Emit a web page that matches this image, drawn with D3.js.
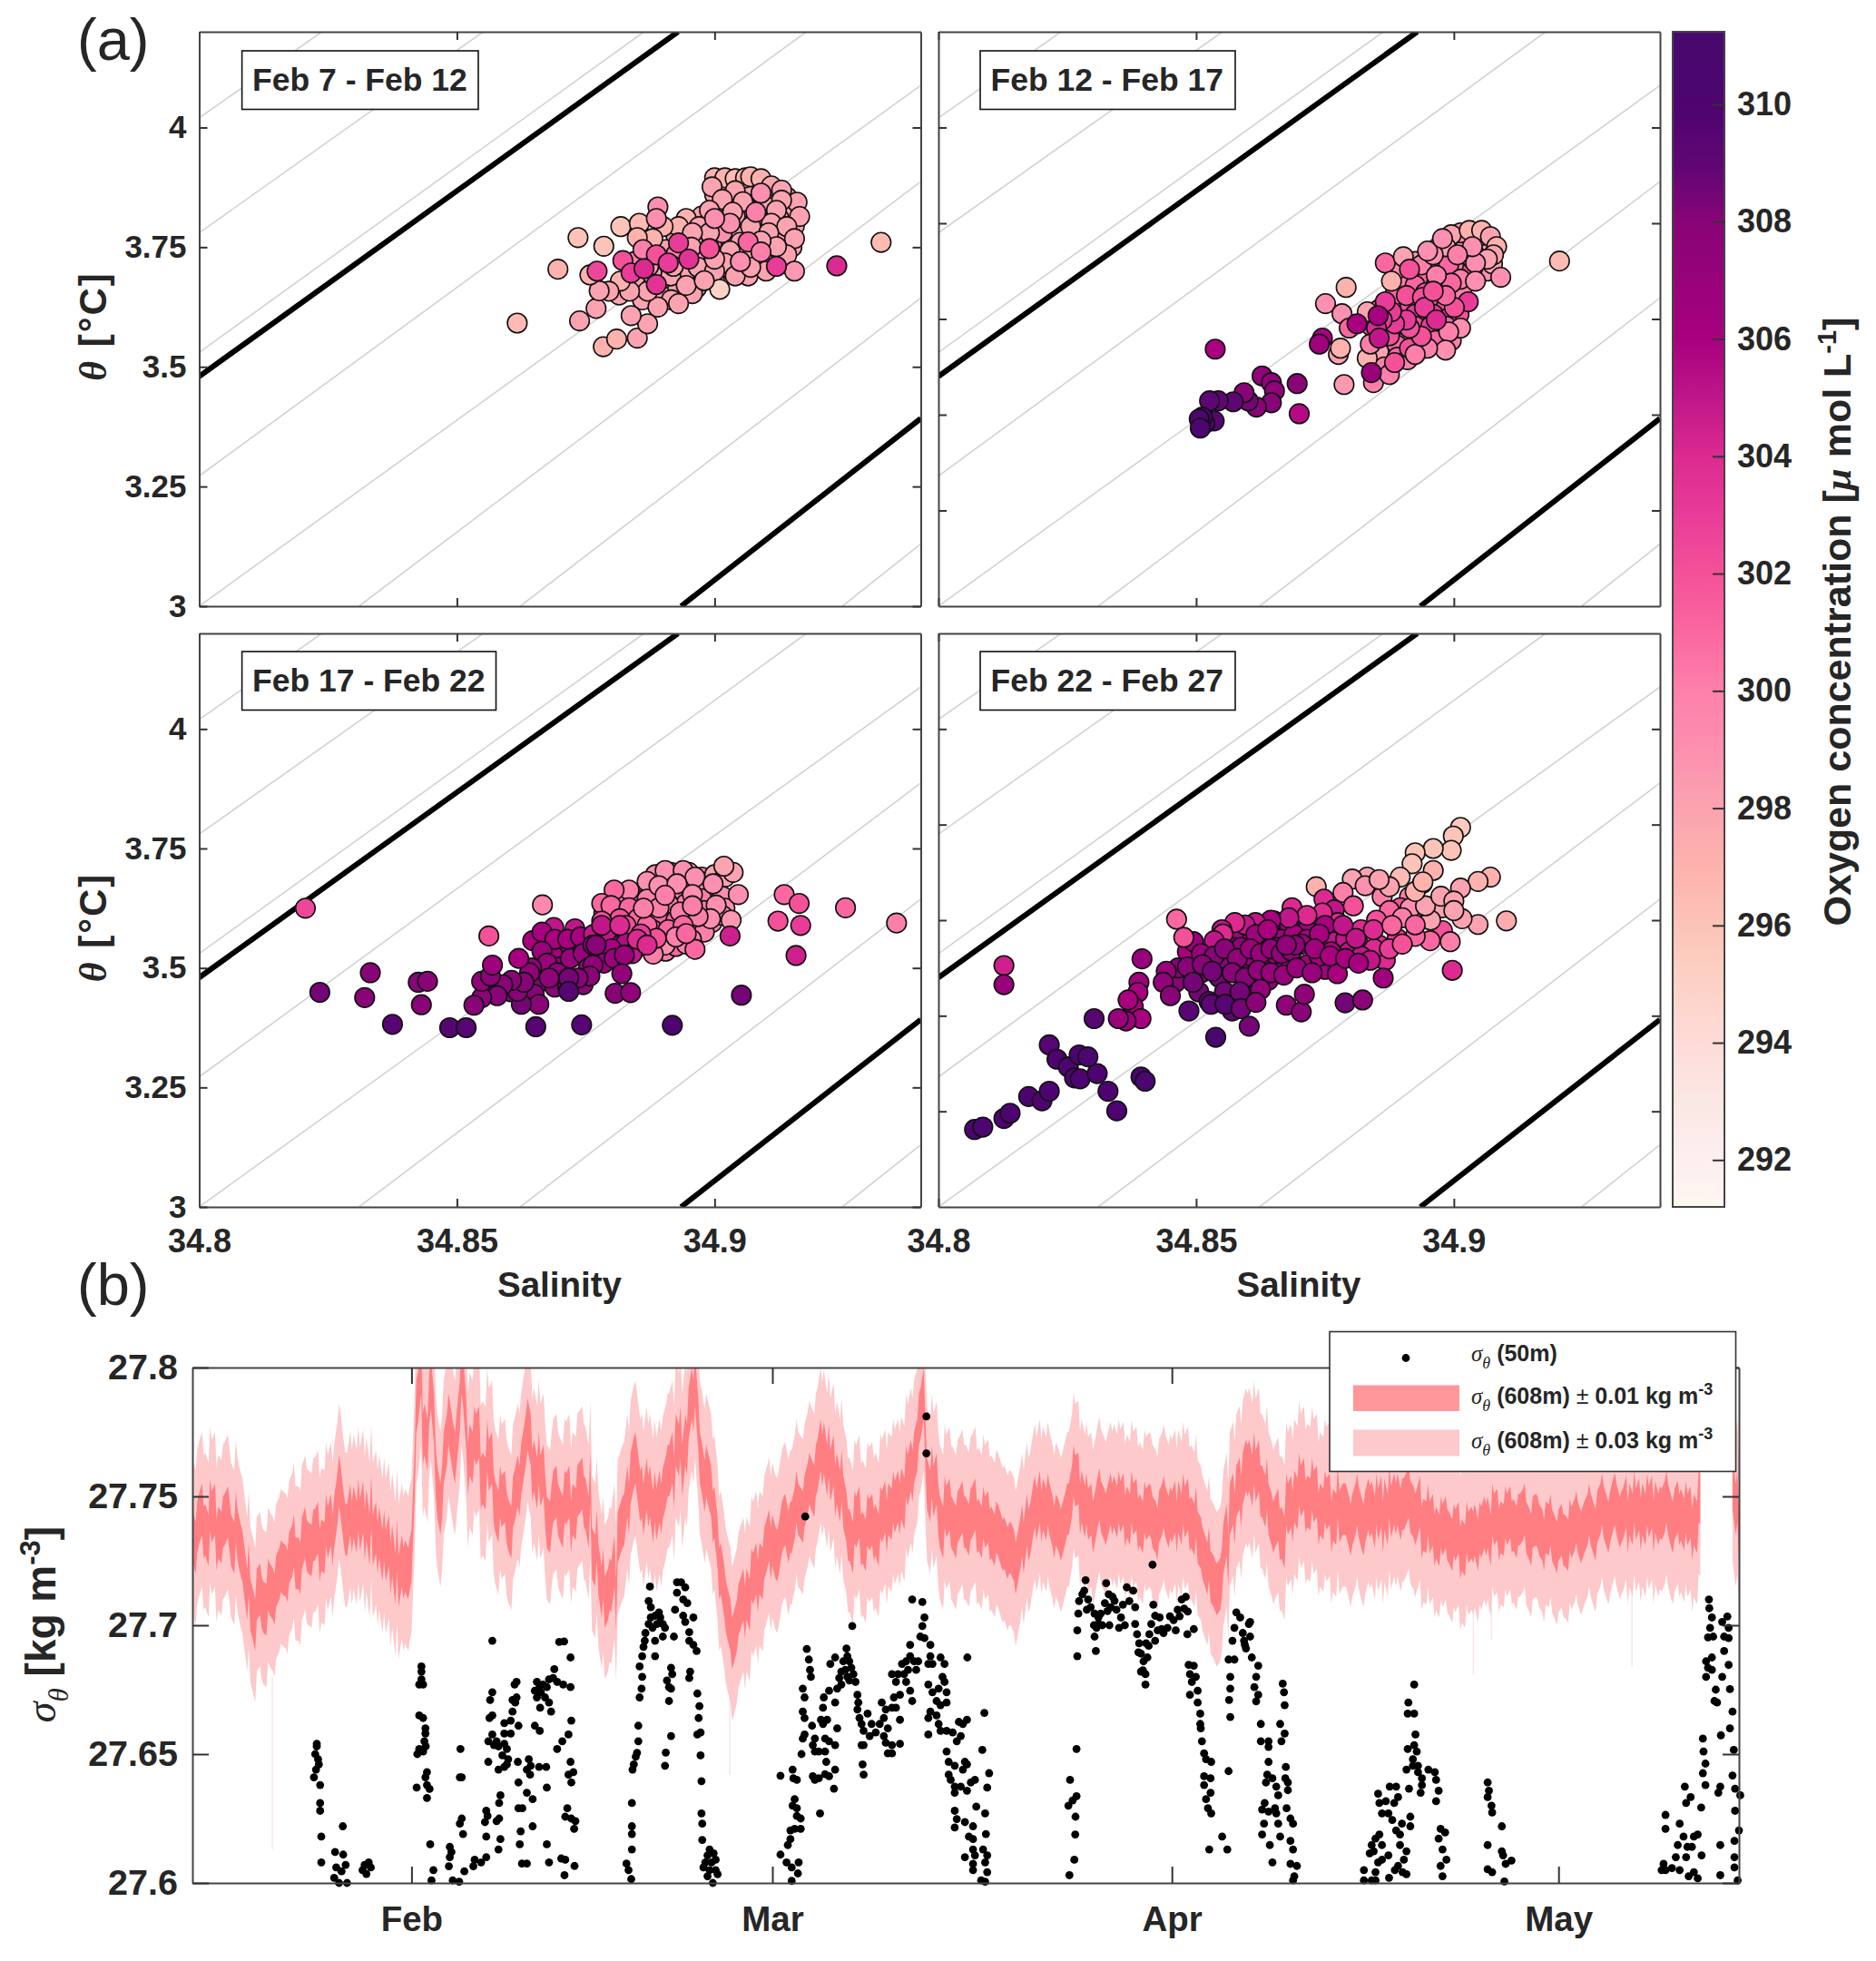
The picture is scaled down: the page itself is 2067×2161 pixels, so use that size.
<!DOCTYPE html>
<html>
<head>
<meta charset="utf-8">
<script src="https://d3js.org/d3.v7.min.js"></script>
<style>
body { margin: 0; background: #fff; }
text { font-family: "Liberation Sans", Arial, sans-serif; fill: #262626; }
</style>
</head>
<body>
<div id="chart"></div>
<script>
// panel (a) tick values
const salTicks = [34.8, 34.85, 34.9];
const thetaLabelled = [3, 3.25, 3.5, 3.75, 4];
const thetaPlain = [3.2, 3.4, 3.6, 3.8, 4];
const panelTitles = ['Feb 7 - Feb 12', 'Feb 12 - Feb 17', 'Feb 17 - Feb 22', 'Feb 22 - Feb 27'];

// density contours, [S0, T0, S1, T1]
const isoThin = [[34.8,4.02,34.8238,4.2],[34.8,3.78,34.8551,4.2],[34.8,3.53,34.8863,4.2],[34.8,3.272,34.9178,4.2],
  [34.8,3.0,34.94,4.088],[34.831,3,34.94,3.887],[34.8623,3,34.94,3.644],[34.9248,3,34.94,3.13]];
const isoThick = [[34.8,3.48,34.8929,4.2],[34.8935,3,34.94,3.392]];

// [salinity, theta, oxygen]
const feb07 = [[34.901,3.885,298],[34.903,3.88,298],[34.905,3.885,298],[34.907,3.882,298],[34.909,3.88,298],[34.912,3.865,298],[34.914,3.855,298],[34.9,3.86,298],[34.902,3.86,298],[34.906,3.862,298],[34.911,3.855,298],
[34.9145,3.835,298],[34.91,3.835,298],[34.906,3.835,298],[34.902,3.835,298],[34.8975,3.815,298],[34.9,3.815,298],[34.904,3.815,298],[34.9085,3.81,298],[34.9125,3.81,298],[34.9155,3.795,298],[34.913,3.78,298],[34.908,3.78,298],
[34.904,3.775,298],[34.9,3.765,298],[34.896,3.765,298],[34.8925,3.775,298],[34.905,3.76,298],[34.9105,3.755,298],[34.915,3.75,298],[34.9135,3.72,298],[34.9095,3.72,298],[34.9065,3.74,298],[34.9025,3.73,298],[34.8985,3.72,298],
[34.8945,3.7,298],[34.8905,3.675,298],[34.8925,3.655,298],[34.8965,3.665,298],[34.9,3.68,298],[34.9035,3.7,298],[34.9065,3.69,298],[34.91,3.7,298],[34.886,3.64,298],[34.8845,3.685,298],[34.8815,3.65,298],[34.8895,3.65,298],
[34.8905,3.745,298],[34.894,3.74,298],[34.8875,3.74,298],[34.8845,3.72,300],[34.888,3.72,300],[34.8925,3.735,300],[34.8965,3.74,299],[34.8995,3.76,299],[34.9015,3.78,299],
[34.9,3.895,297],[34.902,3.895,297],[34.904,3.893,296.5],[34.906,3.895,297],[34.907,3.897,297],[34.909,3.893,297],[34.911,3.878,298],[34.8995,3.876,298],
[34.904,3.868,298],[34.909,3.863,299],[34.913,3.869,298],[34.916,3.844,298],[34.9165,3.814,298],[34.913,3.848,298],[34.912,3.827,298],[34.9015,3.85,298],[34.9055,3.845,298],
[34.9035,3.823,298],[34.899,3.827,298],[34.8945,3.81,297],[34.893,3.793,297],[34.897,3.793,298],[34.899,3.78,298],[34.903,3.8,299],[34.907,3.793,298],[34.911,3.8,298],[34.914,3.793,298],
[34.9105,3.78,298],[34.9155,3.768,298],[34.914,3.734,298],[34.912,3.751,298],[34.909,3.763,298],[34.903,3.742,298],[34.902,3.717,298],[34.8957,3.78,298],[34.89,3.793,297],[34.888,3.768,297],
[34.8968,3.708,298],[34.9,3.7,298],[34.904,3.69,298],[34.907,3.708,298],[34.905,3.72,299],[34.9,3.725,298],[34.901,3.662,295],[34.8957,3.653,298],[34.8916,3.64,298],[34.893,3.632,298],[34.889,3.625,298],
[34.887,3.658,298],[34.888,3.692,298],[34.8835,3.658,298],[34.8817,3.679,297],[34.8795,3.658,298],[34.8872,3.71,298],[34.8915,3.69,298],[34.8945,3.67,298],[34.898,3.68,298],[34.892,3.71,298],
[34.8617,3.5915,296.5],[34.8696,3.704,297],[34.8735,3.77,296],[34.8785,3.752,296],[34.8818,3.793,296],[34.8854,3.8,296.5],[34.889,3.834,299],[34.8887,3.81,299],[34.8784,3.542,297],[34.881,3.558,297],
[34.885,3.56,298],[34.887,3.59,298],[34.8838,3.607,298],[34.8738,3.596,298],[34.877,3.622,298],[34.8776,3.659,298],[34.8758,3.692,297],[34.885,3.77,297],[34.9065,3.761,301],[34.908,3.823,300],
[34.9,3.81,299],[34.8955,3.75,298],[34.899,3.747,302],[34.909,3.74,300],[34.9155,3.7,298.5],[34.8772,3.7,302.5],[34.8822,3.722,302],[34.8861,3.745,300],[34.8838,3.696,303],[34.8887,3.672,303.5],
[34.8887,3.734,302],[34.893,3.759,303],[34.891,3.717,303],[34.895,3.725,303.5],[34.8863,3.705,304],[34.912,3.71,303],[34.9237,3.711,304],[34.9323,3.76,296.5]];

const feb12 = [[34.9,3.76,298],[34.902,3.765,298],[34.904,3.76,298],[34.906,3.76,298],[34.9,3.745,299],[34.902,3.745,298],[34.905,3.745,298],[34.8975,3.745,299],[34.899,3.73,299],[34.9025,3.735,299],[34.905,3.73,298],[34.9065,3.74,298],
[34.9015,3.715,300],[34.9045,3.705,299],[34.9065,3.7,299],[34.9075,3.715,298],[34.897,3.715,300],[34.895,3.725,299],[34.8925,3.7,301],[34.895,3.69,301],[34.898,3.695,300],[34.9005,3.7,300],[34.903,3.69,300],[34.8905,3.68,300],
[34.8925,3.67,301],[34.8965,3.67,301],[34.8995,3.655,301],[34.9015,3.66,300],[34.8945,3.655,302],[34.8915,3.63,302],[34.8965,3.635,302],[34.8985,3.625,302],[34.901,3.61,302],[34.8985,3.6,302],[34.896,3.61,303],[34.8925,3.61,303],
[34.89,3.57,302],[34.8925,3.585,302],[34.8955,3.585,303],[34.8985,3.585,301],[34.8995,3.555,300],[34.8965,3.555,301],[34.8935,3.55,301],[34.891,3.555,301],[34.889,3.545,301],[34.8875,3.565,302],[34.8855,3.53,298],[34.8865,3.5,300],
[34.889,3.52,301],[34.891,3.515,300],[34.884,3.585,302],[34.8855,3.62,301],[34.8885,3.65,301],[34.8885,3.7,299],[34.8925,3.72,298],[34.897,3.75,298],
[34.9205,3.721,296.5],[34.8867,3.717,301],[34.8902,3.73,298],[34.8937,3.713,300],[34.8914,3.704,302],[34.899,3.713,301],[34.9036,3.704,302],[34.9091,3.687,299],[34.9071,3.759,298],
[34.9048,3.772,298],[34.9013,3.78,299],[34.8995,3.776,298],[34.903,3.785,297],[34.9054,3.785,297],[34.9071,3.772,298],[34.9083,3.751,297],[34.9077,3.734,298],[34.8984,3.751,298],[34.896,3.734,299],
[34.8949,3.742,299],[34.8978,3.768,299],[34.9036,3.725,298],[34.9065,3.725,298],[34.9042,3.717,299],[34.9036,3.751,299],[34.9007,3.734,300],[34.9013,3.683,300],[34.9042,3.679,299],[34.8995,3.675,301],
[34.8966,3.691,300],[34.8879,3.679,297],[34.8908,3.649,302],[34.8939,3.645,302],[34.8943,3.624,303],[34.9028,3.636,303],[34.9001,3.624,302],[34.8984,3.649,301],[34.896,3.658,302],[34.9013,3.581,299],
[34.899,3.573,300],[34.8984,3.535,299],[34.8949,3.539,300],[34.8914,3.539,302],[34.8925,3.526,300],[34.8937,3.564,302],[34.8914,3.581,302],[34.8908,3.598,303],[34.8885,3.59,303],[34.8879,3.615,303],
[34.8867,3.636,303],[34.8861,3.598,303],[34.885,3.581,304],[34.8966,3.598,304],[34.8751,3.632,299],[34.8791,3.666,297],[34.8783,3.611,299],[34.8797,3.581,301],[34.8776,3.526,298],[34.878,3.539,297],
[34.8787,3.463,298.5],[34.8844,3.467,300],[34.8875,3.484,300],[34.8885,3.509,302],[34.8832,3.518,297],[34.8838,3.5475,300],[34.8832,3.615,298],[34.8745,3.56,306],[34.8739,3.5475,306.5],[34.8812,3.59,306],
[34.884,3.488,307],[34.8855,3.56,305],[34.8853,3.607,306],[34.8537,3.537,306],[34.87,3.402,305.5],[34.8696,3.465,308],[34.8628,3.481,307.5],[34.8646,3.467,307.5],[34.8652,3.45,307.5],[34.8646,3.425,308],
[34.8617,3.416,308],[34.8601,3.429,308.5],[34.8593,3.446,308],[34.8572,3.427,309],[34.8543,3.429,309],[34.8526,3.429,309],[34.8535,3.387,309.5],[34.8517,3.382,310],[34.8512,3.395,310],[34.8506,3.391,310],[34.8508,3.372,310.5]];

const feb17 = [[34.8885,3.695,299],[34.8915,3.7,299],[34.895,3.7,299],[34.8975,3.69,299],[34.9,3.695,298],[34.902,3.69,298],[34.8995,3.66,299],[34.897,3.665,299],[34.894,3.685,299],[34.891,3.69,299],[34.887,3.665,300],[34.89,3.66,300],
[34.893,3.655,300],[34.8975,3.645,300],[34.9015,3.65,299],[34.902,3.625,299],[34.898,3.62,300],[34.8945,3.635,300],[34.891,3.635,300],[34.8875,3.625,301],[34.8845,3.645,301],[34.8815,3.64,301],[34.8785,3.615,302],[34.8825,3.615,302],
[34.8855,3.61,301],[34.8895,3.605,301],[34.8925,3.6,301],[34.8965,3.595,300],[34.8995,3.595,300],[34.9015,3.61,299],[34.898,3.575,300],[34.8955,3.56,300],[34.893,3.565,301],[34.8905,3.57,302],[34.888,3.58,302],[34.885,3.59,302],
[34.8825,3.57,303],[34.88,3.575,303],[34.8875,3.545,300],[34.8905,3.535,300],[34.8925,3.545,301],[34.8945,3.55,300],
[34.8904,3.704,299],[34.8939,3.704,299],[34.8962,3.69,299],[34.8869,3.681,299],[34.8834,3.663,300],[34.8805,3.663,301],[34.8781,3.635,301],[34.8799,3.6305,301],[34.8834,3.626,301],[34.8869,3.644,300],
[34.8892,3.672,299],[34.8927,3.676,299],[34.8957,3.6535,299],[34.9003,3.6315,299],[34.8997,3.676,299],[34.9036,3.7,298],[34.9018,3.713,298],[34.9046,3.6535,299],[34.9032,3.6,298.5],[34.8992,3.603,299],
[34.8968,3.6075,300],[34.8933,3.617,300],[34.8892,3.626,300],[34.8851,3.603,301],[34.8816,3.603,302],[34.8781,3.598,302],[34.8828,3.589,302],[34.8869,3.589,301],[34.891,3.58,301],[34.8939,3.589,301],
[34.8904,3.652,300],[34.8957,3.63,300],[34.8862,3.625,300],[34.8962,3.539,301],[34.8904,3.548,299],[34.8881,3.529,300],[34.8851,3.543,301],[34.8887,3.562,302],[34.8857,3.571,303],[34.8925,3.565,300],[34.8945,3.572,301],
[34.8653,3.557,306],[34.8647,3.557,306],[34.8688,3.5846,305],[34.8729,3.582,305],[34.8711,3.543,306],[34.8717,3.539,306.5],[34.8688,3.525,306.5],[34.87,3.502,307],[34.8793,3.562,306],[34.8828,3.552,305.5],
[34.8665,3.575,306],[34.869,3.56,306],[34.8715,3.56,306],[34.874,3.565,306],[34.8765,3.57,305],[34.879,3.575,305],[34.8665,3.535,307],[34.8675,3.51,307],[34.8695,3.49,307.5],[34.872,3.52,307],[34.8745,3.53,307],[34.8775,3.53,307],
[34.88,3.54,306],[34.8755,3.5,307.5],[34.8785,3.51,307],[34.8805,3.52,307],[34.884,3.53,305],[34.885,3.56,304],[34.8645,3.5,307.5],[34.866,3.47,308],[34.869,3.46,308],[34.8715,3.46,308.5],[34.8745,3.465,308],[34.8605,3.45,308],[34.865,3.445,308],[34.857,3.46,308],[34.8555,3.45,308],
[34.8781,3.589,305],[34.8816,3.589,304],[34.8869,3.548,304],[34.8764,3.548,307.5],[34.877,3.548,308],[34.8764,3.506,307.5],[34.8825,3.527,307],[34.882,3.488,307.5],[34.8807,3.447,308],[34.8837,3.4485,307.5],
[34.8758,3.483,308],[34.8735,3.479,308],[34.8717,3.479,308.5],[34.8679,3.479,307.5],[34.8641,3.49,307.5],[34.8659,3.424,308],[34.8625,3.424,308.5],[34.8618,3.451,308],[34.863,3.47,308],[34.8606,3.474,308],
[34.8589,3.465,308],[34.8578,3.442,308],[34.8548,3.4375,308],[34.8533,3.422,308],[34.8548,3.472,307.5],[34.8565,3.483,308],[34.862,3.52,306],[34.8569,3.506,306.5],[34.8717,3.451,309.5],[34.8666,3.632,299.5],[34.8562,3.567,302],
[34.9135,3.6535,301],[34.9164,3.635,302],[34.9123,3.598,302],[34.9167,3.589,303],[34.9158,3.526,304.5],[34.9254,3.626,301],[34.9353,3.594,300],[34.903,3.567,304.5],[34.8206,3.625,302.5],
[34.8234,3.449,308.5],[34.8332,3.49,308],[34.8321,3.438,308],[34.8375,3.382,309.5],[34.8425,3.47,308],[34.8443,3.472,308],[34.8431,3.423,308],[34.8486,3.375,309.5],[34.8518,3.375,309.5],[34.8653,3.377,309.5],
[34.8742,3.381,309.5],[34.8918,3.38,310],[34.9052,3.443,308.5]];

const feb22 = [[34.9013,3.794,295.5],[34.8999,3.776,296],[34.8995,3.746,296],[34.896,3.75,296],[34.8925,3.741,296],[34.8919,3.718,296],[34.8896,3.69,296.5],[34.896,3.704,297],[34.9071,3.69,297],[34.9047,3.681,297],
[34.9013,3.667,298],[34.9047,3.591,298],[34.9102,3.5985,297.5],[34.8832,3.69,298],[34.8803,3.686,298],[34.8828,3.672,299],[34.8733,3.67,297],[34.8785,3.658,300],[34.8939,3.677,300],[34.8861,3.649,300],
[34.8914,3.649,300],[34.8896,3.626,302],[34.8978,3.626,298],[34.9016,3.603,298],[34.8978,3.578,302],[34.8993,3.555,300],[34.8954,3.557,301],[34.8925,3.566,301],[34.892,3.6,300],[34.8955,3.6,298],
[34.8915,3.625,299],[34.8945,3.63,298],[34.8975,3.65,298],[34.9,3.64,298],[34.9,3.62,298],[34.8925,3.66,297],[34.894,3.68,297],[34.8875,3.67,298],[34.8855,3.685,298],[34.8875,3.62,301],[34.89,3.605,300],
[34.882,3.58,304],[34.8855,3.548,304],[34.8867,3.516,304],[34.889,3.562,303],[34.8748,3.644,304],[34.8768,3.6215,305],[34.8686,3.626,304],[34.8651,3.5985,306],[34.8715,3.58,306],[34.8681,3.589,307],
[34.8565,3.58,305],[34.8585,3.56,306],[34.861,3.565,306],[34.8635,3.555,306.5],[34.8665,3.56,306.5],[34.869,3.57,306],[34.8715,3.56,306],[34.874,3.55,306],[34.8765,3.555,305],[34.879,3.56,305],[34.8815,3.55,304],[34.8845,3.54,304],[34.8875,3.54,303],[34.89,3.55,302],[34.8925,3.59,301],[34.885,3.6,302],
[34.8805,3.63,302],[34.8775,3.595,304],[34.8745,3.615,304],[34.8715,3.61,304],[34.868,3.605,305],[34.8645,3.6,306],[34.8615,3.595,305],[34.8595,3.59,305],[34.8575,3.595,304],[34.855,3.58,305],
[34.875,3.589,306],[34.8692,3.548,307],[34.8657,3.543,307],[34.8715,3.507,306.5],[34.875,3.497,306.5],[34.8774,3.488,306],[34.8634,3.516,307],[34.8599,3.507,307],[34.8576,3.543,307.5],[34.8552,3.571,304],
[34.8535,3.557,305],[34.8483,3.534,306],[34.8556,3.516,308],[34.864,3.474,307.5],[34.8599,3.461,308],[34.8797,3.534,305],[34.882,3.525,305],[34.8838,3.516,305],[34.8785,3.589,305],[34.8739,3.571,306],
[34.8616,3.57,306.5],[34.8639,3.58,306],[34.8587,3.543,307.5],[34.8605,3.525,307],[34.8657,3.525,307],[34.8675,3.507,307],[34.8739,3.525,306],[34.8762,3.534,306],[34.881,3.562,305],[34.8844,3.58,304],[34.888,3.589,301],
[34.8495,3.555,307],[34.851,3.53,307],[34.8535,3.525,308],[34.8555,3.54,308],[34.858,3.52,307.5],[34.8605,3.54,307],[34.8625,3.53,307],[34.8645,3.54,307.5],[34.8665,3.53,307.5],[34.8685,3.535,307.5],[34.8705,3.55,307],[34.873,3.54,306.5],[34.876,3.525,306],[34.879,3.52,306],[34.8815,3.51,306],
[34.851,3.49,308],[34.8545,3.48,308.5],[34.857,3.49,308],[34.8595,3.48,308],[34.862,3.495,307.5],[34.8645,3.49,307],[34.867,3.485,307],[34.8695,3.5,307],[34.8725,3.49,307],[34.846,3.47,308],[34.8465,3.5,308],[34.8505,3.45,308.5],[34.8555,3.45,308.5],[34.8585,3.45,308.5],[34.8625,3.455,307.5],[34.8525,3.43,309],[34.857,3.41,309],
[34.8692,3.548,307.5],[34.8675,3.548,307.5],[34.8483,3.502,308],[34.8494,3.47,308.5],[34.8512,3.507,308],[34.8531,3.493,308.5],[34.8486,3.41,309.5],[34.8529,3.424,309],[34.8556,3.424,309.5],[34.8587,3.415,308.5],
[34.8616,3.428,308],[34.8603,3.378,308.5],[34.8675,3.422,307.5],[34.8704,3.408,308],[34.871,3.445,307.5],[34.8789,3.427,308.5],[34.8823,3.433,308],[34.8863,3.479,306.5],[34.8997,3.495,304],
[34.8442,3.493,307],[34.8436,3.47,307.5],[34.845,3.442,308],[34.8389,3.47,306.5],[34.8387,3.449,306],[34.8378,3.419,306],[34.8368,3.433,306],[34.8393,3.394,306],[34.8364,3.389,307],[34.8349,3.394,307],
[34.8395,3.519,307],[34.8462,3.602,301],[34.8476,3.564,302],[34.8127,3.505,304.5],[34.8127,3.465,307],[34.8302,3.394,309.5],[34.8538,3.355,311],[34.807,3.162,310.5],[34.8086,3.167,310.5],[34.8127,3.185,310],
[34.8139,3.196,310],[34.8175,3.231,310],[34.8201,3.222,310],[34.8215,3.242,310],[34.8215,3.339,309.5],[34.823,3.309,310],[34.8252,3.293,310],[34.8264,3.27,310],[34.8275,3.268,310],[34.8308,3.279,310],
[34.8273,3.318,310],[34.829,3.314,310.5],[34.8329,3.242,310],[34.8346,3.201,310],[34.8393,3.272,310.5],[34.8401,3.263,310.5]];

// colour bar
const o2Domain = [291.2, 311.24];
const o2Ticks = [292, 294, 296, 298, 300, 302, 304, 306, 308, 310];
const o2Stops = [291.2, 292, 293, 294, 295, 296, 297, 298, 299, 300, 301, 302, 303, 304, 305, 306, 308, 309, 310, 311.24];
const o2Colors = ['#fff8f0','#fdeef0','#fae8e4','#fedbd8','#fdd2c6','#fcc4b8','#fdb2ad','#fba3b0','#fd8fb0','#fd80ab','#fb67a0','#f45199','#e83c98','#dc2a90','#c0168a','#a8007f','#880477','#5e0674','#4e0470','#470a6e'];

// panel (b)
const dayDomain = [14, 134];           // days since Jan 1
const monthDays = [31, 59, 90, 120];
const monthNames = ['Feb', 'Mar', 'Apr', 'May'];
const sigmaTicks = [27.6, 27.65, 27.7, 27.75, 27.8];
const bandStartDay = 14;
const bandStep = 0.5;
const inner = 0.01, outer = 0.03;
// sigma-theta at 608 m, read on the half day
const sigma608 = [27.735,27.741,27.737,27.742,27.736,27.741,27.733,27.735,27.722,27.708,27.712,27.707,27.714,27.717,27.722,27.726,27.724,27.732,27.73,27.735,27.731,27.736,27.74,27.752,
27.737,27.744,27.739,27.743,27.733,27.736,27.727,27.729,27.717,27.723,27.727,27.788,27.776,27.794,27.752,27.765,27.776,27.772,27.795,27.768,27.772,27.757,27.762,27.746,27.748,27.739,27.75,27.76,
27.778,27.762,27.756,27.74,27.75,27.743,27.749,27.745,27.753,27.747,27.728,27.722,27.709,27.715,27.734,27.741,27.757,27.76,27.745,27.752,27.743,27.751,27.76,27.772,27.76,27.782,27.795,27.762,
27.757,27.744,27.722,27.705,27.695,27.708,27.712,27.718,27.722,27.73,27.733,27.73,27.741,27.738,27.745,27.748,27.755,27.762,27.769,27.758,27.757,27.748,27.735,27.74,27.734,27.739,27.737,27.742,
27.745,27.746,27.751,27.756,27.765,27.782,27.755,27.752,27.74,27.744,27.739,27.743,27.74,27.744,27.739,27.74,27.736,27.737,27.732,27.73,27.725,27.73,27.737,27.743,27.747,27.745,27.741,27.737,
27.745,27.756,27.75,27.743,27.741,27.746,27.744,27.748,27.746,27.744,27.745,27.741,27.743,27.74,27.742,27.744,27.742,27.746,27.744,27.74,27.734,27.726,27.719,27.714,27.73,27.745,27.752,27.757,
27.762,27.758,27.752,27.745,27.74,27.736,27.745,27.75,27.752,27.748,27.75,27.745,27.747,27.743,27.742,27.745,27.741,27.744,27.742,27.746,27.743,27.747,27.744,27.749,27.747,27.746,27.743,27.739,
27.738,27.736,27.737,27.734,27.735,27.731,27.734,27.737,27.736,27.74,27.741,27.738,27.741,27.739,27.741,27.738,27.74,27.737,27.738,27.735,27.735,27.733,27.736,27.738,27.738,27.741,27.742,27.744,
27.742,27.745,27.743,27.745,27.743,27.745,27.744,27.746,27.743,27.745,27.743,27.743,27.741,27.741,27.749,null,null,null,null,27.755,27.735];
// same series, read a quarter day later
const sigma608Mid = [27.73,27.745,27.733,27.745,27.734,27.744,27.73,27.729,27.712,27.703,27.714,27.706,27.712,27.72,27.721,27.729,27.724,27.736,27.729,27.738,27.73,27.741,27.749,27.741,
27.745,27.738,27.746,27.733,27.738,27.727,27.733,27.718,27.725,27.72,27.76,27.8,27.77,27.78,27.745,27.772,27.768,27.785,27.778,27.765,27.775,27.755,27.765,27.742,
27.75,27.736,27.756,27.768,27.772,27.755,27.76,27.738,27.752,27.74,27.752,27.743,27.755,27.74,27.725,27.713,27.712,27.725,27.738,27.752,27.763,27.75,27.755,27.742,
27.75,27.756,27.765,27.768,27.772,27.79,27.778,27.754,27.752,27.732,27.714,27.7,27.7,27.712,27.708,27.722,27.72,27.735,27.728,27.738,27.734,27.744,27.743,27.753,
27.752,27.77,27.76,27.764,27.75,27.742,27.73,27.744,27.731,27.741,27.733,27.746,27.743,27.75,27.747,27.762,27.77,27.79,27.75,27.757,27.736,27.747,27.736,27.746,
27.737,27.747,27.736,27.742,27.733,27.733,27.728,27.727,27.732,27.741,27.745,27.75,27.743,27.74,27.738,27.742,27.752,27.757,27.744,27.745,27.748,27.743,27.749,27.744,
27.749,27.741,27.747,27.738,27.745,27.738,27.745,27.74,27.746,27.741,27.747,27.737,27.732,27.722,27.717,27.716,27.737,27.749,27.755,27.762,27.756,27.762,27.748,27.741,
27.743,27.732,27.748,27.747,27.755,27.747,27.752,27.743,27.749,27.741,27.745,27.74,27.745,27.739,27.747,27.74,27.748,27.741,27.749,27.743,27.75,27.744,27.748,27.738,
27.741,27.733,27.74,27.731,27.738,27.729,27.736,27.731,27.74,27.733,27.743,27.737,27.744,27.736,27.743,27.735,27.741,27.735,27.737,27.732,27.737,27.731,27.739,27.734,
27.741,27.737,27.745,27.74,27.747,27.74,27.748,27.741,27.747,27.741,27.748,27.741,27.746,27.74,27.746,27.739,27.744,27.738,null,null,null,null,null,27.745];
// and again three eighths of a day later, for the short wiggles
const sigma608Fine = [27.738,27.736,27.747,27.731,27.74,27.739,27.742,27.727,27.722,27.7,27.709,27.716,27.71,27.723,27.719,27.733,27.722,27.731,27.735,27.727,27.741,27.733,27.756,27.737,
27.738,27.747,27.735,27.748,27.73,27.735,27.722,27.731,27.72,27.724,27.785,27.772,27.788,27.76,27.752,27.78,27.765,27.8,27.76,27.775,27.755,27.77,27.75,27.752,
27.742,27.748,27.752,27.772,27.758,27.765,27.748,27.745,27.745,27.75,27.738,27.752,27.748,27.757,27.735,27.72,27.716,27.708,27.74,27.745,27.765,27.752,27.748,27.75,
27.745,27.76,27.755,27.775,27.768,27.785,27.765,27.76,27.742,27.72,27.708,27.693,27.706,27.705,27.72,27.715,27.728,27.728,27.727,27.74,27.738,27.75,27.742,27.757,
27.76,27.764,27.768,27.752,27.758,27.735,27.742,27.733,27.741,27.735,27.744,27.738,27.75,27.745,27.76,27.758,27.78,27.77,27.76,27.745,27.748,27.74,27.742,27.74,
27.743,27.738,27.744,27.735,27.738,27.731,27.73,27.722,27.737,27.735,27.748,27.742,27.749,27.736,27.735,27.745,27.76,27.745,27.749,27.738,27.751,27.741,27.745,27.75,
27.74,27.75,27.739,27.746,27.744,27.735,27.748,27.744,27.738,27.749,27.739,27.744,27.728,27.728,27.715,27.72,27.725,27.741,27.748,27.76,27.765,27.752,27.755,27.738,
27.735,27.749,27.742,27.757,27.746,27.755,27.741,27.75,27.738,27.752,27.745,27.737,27.749,27.737,27.744,27.749,27.738,27.752,27.745,27.747,27.752,27.741,27.736,27.745,
27.733,27.74,27.735,27.737,27.728,27.738,27.734,27.738,27.737,27.745,27.735,27.744,27.738,27.741,27.745,27.733,27.74,27.731,27.741,27.73,27.733,27.739,27.742,27.736,
27.745,27.735,27.749,27.738,27.749,27.742,27.738,27.75,27.739,27.749,27.738,27.744,27.75,27.738,27.741,27.746,27.735,27.75,null,null,null,null,null,27.75];
// narrow downward spikes of the outer band, [day, lowest sigma, highest sigma]
const bandSpikes = [[20.2,27.613,27.68],[55.7,27.642,27.69],[113.4,27.681,27.72],[114.8,27.694,27.72],[125.7,27.684,27.72]];

// sigma-theta at 50 m, [day, sigma]
const dots50 = [[23.65,27.654],[23.65,27.653],[23.53,27.65],[23.75,27.648],[23.81,27.646],[23.59,27.644],[23.43,27.641],[23.91,27.638],[23.91,27.631],[23.91,27.628],[24,27.618],[24,27.608],
[25.07,27.612],[25.7,27.611],[25.16,27.606],[25.89,27.607],[25.57,27.6045],[25,27.602],[25.38,27.6],[26,27.6],[25.67,27.622],[27.2,27.605],[27.5,27.6035],[27.36,27.607],[27.68,27.608],[27.84,27.606],
[31.77,27.684],[31.77,27.682],[31.77,27.679],[31.6,27.677],[31.9,27.677],[31.6,27.665],[31.9,27.664],[32.08,27.66],[32.08,27.658],[32,27.655],[32.1,27.653],[31.6,27.652],[31.45,27.65],[31.9,27.651],
[32.2,27.643],[32.08,27.641],[32.2,27.638],[32.4,27.6365],[32.2,27.633],[31.4,27.637],[32.45,27.615],[32.7,27.605],[32.55,27.601],
[33.97,27.614],[34.1,27.612],[33.97,27.61],[33.9,27.6065],[34.2,27.601],[34.7,27.6005],[35.1,27.6045],[35.8,27.6065],[35.9,27.609],[36.4,27.608],[36.8,27.61],[34.8,27.652],[34.75,27.641],[34.9,27.641],[34.9,27.625],[34.75,27.623],[35,27.619],
[37.27,27.694],[37.27,27.674],[37.1,27.671],[37.27,27.665],[37.05,27.664],[37.27,27.6576],[36.96,27.655],[37.6,27.655],[37.4,27.6535],[36.96,27.647],[37.75,27.653],[38.2,27.654],
[38.4,27.652],[38.05,27.6495],[38.5,27.648],[38.4,27.646],[37.75,27.644],[38.2,27.645],[37.9,27.634],[37.8,27.631],[37.6,27.624],[37.8,27.625],[37.9,27.617],[37.75,27.613],
[36.8,27.628],[36.9,27.626],[36.7,27.6236],[36.8,27.618],[38.2,27.658],[38.7,27.658],[38.2,27.662],[38.7,27.663],[38.84,27.6665],[39.05,27.67],[38.84,27.671],[39.15,27.672],[39,27.677],[39.15,27.678],
[39.3,27.661],[39.25,27.647],[39.3,27.639],[39.3,27.629],[39.6,27.629],[39.95,27.635],[40.4,27.6325],[40.1,27.648],[40.25,27.6455],[39.95,27.644],[40.2,27.642],[40.9,27.645],[41.45,27.645],[41.5,27.637],
[39.47,27.62],[39.4,27.615],[40.4,27.622],[39.57,27.6075],[39.95,27.6075],[40.57,27.661],[40.95,27.659],
[40.73,27.678],[40.57,27.6746],[40.89,27.6754],[41.04,27.674],[41.2,27.677],[40.73,27.672],[41.36,27.672],[40.98,27.668],[41.83,27.6665],[41.67,27.67],[41.67,27.679],[42.08,27.683],[41.99,27.6795],[42.3,27.678],[41.5,27.676],[42.77,27.677],[43.34,27.676],
[42.46,27.6935],[42.84,27.6937],[43.34,27.6875],[43.4,27.663],[43.18,27.6576],[42.3,27.652],[42.7,27.655],[43.34,27.647],[43.56,27.643],[43.18,27.642],[43.4,27.639],[43.09,27.629],[42.93,27.6257],[43.4,27.625],[43.72,27.624],[43.62,27.621],
[41.5,27.615],[41.67,27.608],[42.62,27.6095],[42.93,27.609],[43.65,27.6066],[42.87,27.603],
[47.68,27.6075],[47.84,27.605],[48.05,27.6015],[48.1,27.613],[48.1,27.619],[48.1,27.622],[48.1,27.631],[48.15,27.644],[48.25,27.646],[48.4,27.649],[48.5,27.6505],[48.6,27.655],[48.6,27.661],
[48.7,27.672],[48.85,27.6754],[48.9,27.68],[48.7,27.684],[48.9,27.688],[49,27.6916],[49.1,27.694],[49.15,27.697],[49.4,27.7005],[49.57,27.703],[49.57,27.707],[49.5,27.715],[49.4,27.7094],
[49.9,27.7037],[50.04,27.7005],[49.7,27.699],[50.2,27.705],[50.3,27.703],[50.5,27.7005],[50.67,27.699],[49.9,27.694],[49.9,27.688],[50.5,27.6956],
[51.14,27.6835],[51.23,27.681],[50.82,27.6786],[50.98,27.676],[51.14,27.6754],[50.98,27.6706],[51.14,27.657],[50.73,27.6506],[50.67,27.6455],[51.36,27.6956],[51.45,27.706],[51.6,27.7167],[51.92,27.7167],[52.24,27.7147],[51.6,27.7126],[52.08,27.71],[52.4,27.7086],[52.08,27.7037],[52.24,27.7013],[52.87,27.703],[52.55,27.6973],[52.55,27.694],[52.87,27.6924],[53.12,27.69],[52.62,27.682],[52.55,27.6795],[53.18,27.6735],[53.34,27.6686],[53.28,27.664],[53.43,27.6584],[53.18,27.6576],[53.43,27.6495],[53.5,27.6395],[53.5,27.627],[53.56,27.623],[53.56,27.6167],
[54.13,27.613],[53.97,27.6107],[54.44,27.6115],[53.8,27.608],[54.28,27.608],[54.6,27.609],[53.65,27.606],[54.13,27.605],[54.6,27.605],[54.75,27.6034],[53.97,27.6026],[54.38,27.6],
[59.63,27.6416],[59.63,27.611],[60.2,27.6147],[60.4,27.617],[60.1,27.608],[60.5,27.606],[60.5,27.6008],[61.04,27.608],[60.98,27.6037],[60.57,27.644],[60.63,27.6406],[60.9,27.64],[60.73,27.6325],[60.57,27.63],[60.9,27.629],[60.9,27.626],[61.2,27.625],[60.73,27.621],[61.2,27.621],[60.4,27.6204],
[61.26,27.65],[61.36,27.656],[61.5,27.6576],[61.36,27.6665],[61.5,27.664],[61.36,27.6754],[61.5,27.672],[61.67,27.6908],[61.83,27.6867],[61.92,27.6827],[61.99,27.68],
[62.08,27.661],[62.3,27.656],[62.14,27.6535],[62.3,27.651],[62.6,27.651],[62.14,27.6414],[62.3,27.64],[62.6,27.6406],[63.09,27.6422],[63.4,27.6414],[63.18,27.647],[63.09,27.651],[62.7,27.627],[63.87,27.644],[63.78,27.6366],[62.93,27.6617],[63.25,27.6633],[62.77,27.6633],[62.93,27.668],[62.99,27.672],[63.5,27.685],[63.87,27.6875],[63.4,27.6746],[64.03,27.6754],[64.35,27.677],[63.87,27.67],[64.03,27.66],[63.87,27.6535],[63.4,27.655],[63.09,27.656],
[64.75,27.691],[64.82,27.688],[64.5,27.686],[64.97,27.686],[64.66,27.6827],[65.13,27.6835],[64.35,27.682],[64.82,27.68],[65.29,27.681],[64.19,27.6795],[64.97,27.6786],[65.45,27.678],[65.2,27.6997],
[65.6,27.673],[65.67,27.67],[65.6,27.6673],[65.76,27.664],[65.92,27.6617],[66.08,27.659],[66.39,27.6657],[66.7,27.6617],[67.02,27.6584],[66.55,27.657],[67.33,27.6617],[67.49,27.67],[67.8,27.6673],[67.65,27.664],[67.96,27.66],[67.65,27.657],[66.08,27.6535],[65.92,27.6535],[66,27.646],[66.08,27.642],[67.8,27.6544],[68.28,27.6535],[68.9,27.654],[67.96,27.6503],[68.28,27.6503],
[68.28,27.681],[68.75,27.681],[68.59,27.678],[68.43,27.672],[68.9,27.673],[68.59,27.668],[68.9,27.6633],[68.28,27.668],[69.06,27.685],[69.38,27.686],[69.69,27.6924],[69.69,27.688],[70,27.686],[69.53,27.6827],[70.16,27.6827],[69.22,27.681],[69.38,27.678],[69.69,27.6746],[69.85,27.6706],[70.32,27.686],[69.85,27.71],[70.64,27.709],[70.8,27.703],[70.64,27.6997],[70.48,27.6956],[70.8,27.695],[71.26,27.6924],[71.1,27.685],[71.42,27.685],[71.26,27.688],[72.05,27.6875],[72.36,27.685],[72.2,27.68],[72.36,27.678],[72.52,27.674],[71.9,27.6754],[71.1,27.677],[71.42,27.674],[71.74,27.6706],[71.26,27.6665],[72.05,27.669],[72.52,27.67],[71.74,27.665],[71.1,27.664],[71.9,27.6617],[72.05,27.659],[71.1,27.6576],[72.52,27.659],[72.99,27.6584],[73.47,27.6625],[74.1,27.6633],[73.78,27.6617],[75.45,27.666],[74.13,27.6875],[73.62,27.657],[73.31,27.655],
[72.52,27.651],[72.68,27.647],[73.15,27.6455],[73.94,27.647],[74.1,27.646],[73.78,27.644],[72.68,27.642],[72.84,27.64],[73.15,27.6374],[73.62,27.6374],[74.1,27.6358],[74.72,27.64],[74.4,27.639],[73.15,27.635],[75.29,27.6516],[75.82,27.6426],[75.67,27.637],[74.82,27.6296],[75.51,27.627],[73.15,27.628],[73.31,27.6248],[73.15,27.6215],[73.94,27.6236],[74.57,27.622],[74.25,27.618],[74.57,27.617],[75.57,27.619],[74.57,27.613],[74.72,27.6107],[73.94,27.61],[74.57,27.6074],[74.57,27.605],[75.35,27.613],[75.67,27.6107],[75.51,27.608],[75.67,27.6042],[75.2,27.601],[75.51,27.6005],
[61.55,27.7422],[70.95,27.781],[70.95,27.7667],[88.5,27.7235],
[82.05,27.603],[82.43,27.609],[82.5,27.6188],[82.52,27.6257],[81.97,27.63],[82.3,27.632],[82.6,27.6337],[82.1,27.64],[82.6,27.652],[82.66,27.688],[82.66,27.698],[82.74,27.7045],[82.8,27.7094],[83.05,27.712],[83.3,27.7175],[83.2,27.7134],[83.5,27.71],[83.7,27.707],[84,27.7045],[84.3,27.703],[84.15,27.699],[84,27.6956],[84.1,27.69],[84.3,27.7005],[84.47,27.7045],[84.9,27.7163],[84.8,27.7086],[85.1,27.712],[85.4,27.711],[85.25,27.707],[85.7,27.706],[86.05,27.703],[85.9,27.699],[86.2,27.708],[86.5,27.7147],[86.7,27.7094],[87,27.7134],[87.15,27.707],[87.15,27.7005],[87.3,27.6965],[87.46,27.693],[87.6,27.689],[87.8,27.686],[87.95,27.681],[87.95,27.677],[87.6,27.682],[88.1,27.6875],[88.56,27.708],[88.7,27.7037],[88.4,27.7005],[89.05,27.703],[88.9,27.698],[88.7,27.694],[89.35,27.697],[89.66,27.699],[90.13,27.702],[90.45,27.706],[90.76,27.71],[91.08,27.711],[91.23,27.7053],
[85.55,27.7095],[85,27.7055],[84.6,27.7],[86.35,27.7],[85.15,27.7],[83.95,27.7],[83.4,27.706],[88.25,27.6965],[88.2,27.692],[88,27.693],[87.4,27.6895],[87.75,27.6825],[89.2,27.6985],[89.85,27.7035],[90.3,27.698],[90.6,27.7035],[90.95,27.7065],
[91.7,27.6985],[91.2,27.6965],[91.3,27.6846],[91.7,27.6843],[91.4,27.681],[91.55,27.678],[91.86,27.68],[91.4,27.673],[92,27.6746],[92,27.67],[92.2,27.6657],[92.2,27.6617],[92.24,27.66],[92.33,27.655],[92.5,27.6503],[92.65,27.648],[93.05,27.647],[92.5,27.6414],[93,27.6406],[92.5,27.638],[93,27.635],[92.65,27.6325],[92.8,27.629],[93.05,27.627],[92.9,27.613],[93.9,27.618],[94.3,27.613],[94.4,27.6434],
[94.53,27.6644],[94.44,27.671],[94.53,27.6754],[94.53,27.68],[94.4,27.6867],[94.85,27.6867],[94.7,27.694],[95,27.705],[94.85,27.699],[95.3,27.703],[95.5,27.697],[95.97,27.7005],[95.66,27.6924],[96.07,27.7013],[96.07,27.6956],[95.6,27.694],[95.75,27.691],[96.2,27.6875],[96.7,27.6843],[96.54,27.68],[96.4,27.676],[96.7,27.673],[96.54,27.6705],
[96.9,27.6617],[96.9,27.655],[97.5,27.655],[97.5,27.6528],[97.5,27.647],[97.4,27.642],[97.3,27.639],[97.8,27.6406],[98.1,27.6374],[98.25,27.634],[97.2,27.631],[97,27.6285],[97.5,27.6277],[98,27.629],[98.1,27.627],[97.15,27.623],[98.25,27.623],[97,27.6188],[97.6,27.6147],[98.4,27.618],[97.8,27.608],
[98.6,27.6773],[98.7,27.674],[98.75,27.669],[98.4,27.6617],[98.75,27.658],[98.5,27.655],[98.84,27.645],[98.8,27.6406],[99,27.639],[99,27.636],[98.9,27.629],[99.2,27.625],[99.4,27.623],[99.2,27.6163],[99.4,27.613],[99.2,27.6074],[99.7,27.6066],[99.5,27.6026],[99.4,27.601],
[104.9,27.605],[104.9,27.601],[105.5,27.601],[105.8,27.6042],[105.8,27.601],[106.85,27.602],[105.35,27.6115],[105.8,27.6172],[105.5,27.6147],[105.66,27.6123],[106.1,27.6188],[106.3,27.6147],[106,27.608],[106.3,27.609],[106.8,27.6107],[107.3,27.605],[107.55,27.6066],[108,27.609],[107.9,27.6042],[108.2,27.6034],
[106,27.6346],[106.1,27.631],[106.3,27.627],[106.6,27.6317],[106.8,27.627],[106.9,27.6374],[107.4,27.6374],[107.25,27.631],[107.55,27.6333],[107.1,27.6244],[107.4,27.6204],[107.7,27.6188],[107.85,27.623],[108.5,27.6257],[108.5,27.622],[107.7,27.6147],[108.2,27.6123],
[108.4,27.6366],[108.2,27.644],[108.7,27.6455],[108.3,27.652],[108.8,27.6535],[109,27.651],[108.7,27.648],[109.1,27.6455],[109.1,27.643],[108.9,27.6576],[108.3,27.6657],[108.8,27.6657],[108.35,27.67],[108.8,27.677],
[109.4,27.6406],[109.9,27.644],[110.4,27.643],[110.5,27.64],[109.3,27.635],[109.4,27.638],[110.7,27.6358],[110.5,27.6317],[110.85,27.621],[110.7,27.6172],[111.2,27.6196],[111,27.613],[111.3,27.609],[110.85,27.6066],[111,27.6026],
[114.5,27.639],[114.6,27.6358],[114.5,27.6333],[114.8,27.63],[114.85,27.6273],[115.6,27.622],[114.5,27.6147],[115.6,27.6123],[115.7,27.6107],[116.35,27.6087],[115.9,27.6074],[114.5,27.6053],[114.85,27.6042],[115.8,27.6006],
[128.3,27.6264],[128.3,27.621],[128.15,27.6074],[128,27.605],[128.3,27.605],[128.8,27.6058],[129.1,27.61],[129.25,27.6147],[129.4,27.623],[129.7,27.618],[130,27.614],[129.9,27.61],[130.5,27.618],[130.35,27.614],[130.8,27.6188],[129.4,27.605],[130.5,27.6042],[130.8,27.6018],[130.1,27.6026],[131.1,27.6107],
[129.8,27.6374],[129.9,27.631],[130.25,27.6333],[131.07,27.6293],[131.2,27.656],[131.25,27.651],[131.4,27.6463],[131.2,27.6426],[131.4,27.638],[132.55,27.6374],[132.4,27.635],
[131.67,27.71],[131.7,27.7066],[131.9,27.703],[131.76,27.699],[131.6,27.6953],[132,27.6956],[131.45,27.686],[131.9,27.6875],[131.6,27.6835],[131.9,27.6827],[131.45,27.68],[132.2,27.675],[132.1,27.6706],[132.3,27.67],
[133.1,27.7034],[132.7,27.7013],[133.2,27.699],[132.85,27.6956],[133.2,27.695],[132.85,27.69],[133.2,27.6846],[132.7,27.68],[133.3,27.6752],[133.5,27.6665],[133.3,27.66],[132.6,27.6573],[133.6,27.6516],[133.5,27.6417],[133.7,27.6366],[134.1,27.634],[133.7,27.628],[134,27.6204],[133.65,27.6163],[133.65,27.61],[133.65,27.606],[132.55,27.6147],[132.55,27.603],[133.9,27.601]];

const W = 2067, H = 2161;
const svg = d3.select('#chart').append('svg').attr('width', W).attr('height', H);
const o2Color = d3.scaleLinear().domain(o2Stops).range(o2Colors);
const defs = svg.append('defs');

function styleAxis(g, size) {
  g.selectAll('.domain').attr('stroke', '#444').attr('stroke-width', 2);
  g.selectAll('.tick line').attr('stroke', '#333').attr('stroke-width', 2);
  g.selectAll('.tick text').attr('font-size', size).attr('font-weight', 'bold').attr('fill', '#262626');
}

// panels (a)
const panels = [
  {data: feb07, title: panelTitles[0], x0: 219.5, y0: 35, y1: 668, box: [266.6, 527], boxY: 56, labelY: true, labelX: false},
  {data: feb12, title: panelTitles[1], x0: 1034, y0: 35, y1: 668, box: [1080, 1361], boxY: 56, labelY: false, labelX: false},
  {data: feb17, title: panelTitles[2], x0: 219.5, y0: 698, y1: 1330, box: [266.6, 546.5], boxY: 718, labelY: true, labelX: true},
  {data: feb22, title: panelTitles[3], x0: 1034, y0: 698, y1: 1330, box: [1080, 1361], boxY: 718, labelY: false, labelX: true}
];
panels.forEach((p, i) => {
  const x = d3.scaleLinear().domain([34.8, 34.94]).range([p.x0, p.x0 + 795]);
  const y = d3.scaleLinear().domain([3, 4.2]).range([p.y1, p.y0]);
  const clipId = 'clip' + i;
  defs.append('clipPath').attr('id', clipId).append('rect')
    .attr('x', p.x0).attr('y', p.y0).attr('width', 795).attr('height', p.y1 - p.y0);
  const lines = svg.append('g').attr('clip-path', `url(#${clipId})`);
  lines.selectAll('line.thin').data(isoThin).enter().append('line').attr('class', 'thin')
    .attr('x1', d => x(d[0])).attr('y1', d => y(d[1])).attr('x2', d => x(d[2])).attr('y2', d => y(d[3]))
    .attr('stroke', '#d2d2d2').attr('stroke-width', 1.6);
  lines.selectAll('line.thick').data(isoThick).enter().append('line').attr('class', 'thick')
    .attr('x1', d => x(d[0])).attr('y1', d => y(d[1])).attr('x2', d => x(d[2])).attr('y2', d => y(d[3]))
    .attr('stroke', '#000').attr('stroke-width', 6);

  svg.append('g').selectAll('circle').data(p.data).enter().append('circle')
    .attr('cx', d => x(d[0])).attr('cy', d => y(d[1])).attr('r', 10.8)
    .attr('fill', d => o2Color(d[2])).attr('stroke', '#111').attr('stroke-width', 1.6);

  const yVals = p.labelY ? thetaLabelled : thetaPlain;
  const bottom = svg.append('g').attr('transform', `translate(0,${p.y1})`)
    .call(d3.axisBottom(x).tickValues(salTicks).tickSizeInner(-9).tickSizeOuter(0).tickPadding(24)
      .tickFormat(d => p.labelX ? d3.format('.4~f')(d) : ''));
  const top = svg.append('g').attr('transform', `translate(0,${p.y0})`)
    .call(d3.axisTop(x).tickValues(salTicks).tickSizeInner(-9).tickSizeOuter(0).tickFormat(''));
  const left = svg.append('g').attr('transform', `translate(${p.x0},0)`)
    .call(d3.axisLeft(y).tickValues(yVals).tickSizeInner(-9).tickSizeOuter(0).tickPadding(14)
      .tickFormat(d => p.labelY ? d3.format('~g')(d) : ''));
  const right = svg.append('g').attr('transform', `translate(${p.x0 + 795},0)`)
    .call(d3.axisRight(y).tickValues(yVals).tickSizeInner(-9).tickSizeOuter(0).tickFormat(''));
  styleAxis(bottom, 36);
  [top, right].forEach(g => styleAxis(g, 36));
  styleAxis(left, 35);

  svg.append('rect').attr('x', p.box[0]).attr('y', p.boxY).attr('width', p.box[1] - p.box[0]).attr('height', 64.5)
    .attr('fill', '#fff').attr('stroke', '#111').attr('stroke-width', 1.6);
  svg.append('text').attr('x', p.box[0] + 11.5).attr('y', p.boxY + 44).attr('font-size', 35.5)
    .attr('font-weight', 'bold').attr('fill', '#111').text(p.title);

  if (p.labelX) {
    svg.append('text').attr('x', p.x0 + 397).attr('y', 1429).attr('text-anchor', 'middle')
      .attr('font-size', 38.5).attr('font-weight', 'bold').text('Salinity');
  }
  if (p.labelY) {
    const cy = (p.y0 + p.y1) / 2 + 8;
    const t = svg.append('text').attr('transform', `translate(117,${cy}) rotate(-90)`).attr('text-anchor', 'middle')
      .attr('font-size', 42).attr('font-weight', 'bold').attr('letter-spacing', 2);
    t.append('tspan').attr('font-style', 'italic').attr('font-family', 'Liberation Serif').text('θ');
    t.append('tspan').text(' [°C]');
  }
});

// colour bar
const cbY = d3.scaleLinear().domain(o2Domain).range([1330, 35]);
const grad = defs.append('linearGradient').attr('id', 'o2grad').attr('x1', 0).attr('x2', 0).attr('y1', 1).attr('y2', 0);
o2Stops.forEach((v, i) => {
  grad.append('stop').attr('offset', (v - o2Domain[0]) / (o2Domain[1] - o2Domain[0])).attr('stop-color', o2Colors[i]);
});
svg.append('rect').attr('x', 1843).attr('y', 35).attr('width', 57).attr('height', 1295)
  .attr('fill', 'url(#o2grad)').attr('stroke', '#444').attr('stroke-width', 2);
const cbAxis = svg.append('g').attr('transform', 'translate(1900,0)')
  .call(d3.axisRight(cbY).tickValues(o2Ticks).tickSizeInner(-13).tickSizeOuter(0).tickPadding(14));
styleAxis(cbAxis, 36);
cbAxis.select('.domain').remove();
const cbLabel = svg.append('text').attr('transform', 'translate(2039,685) rotate(-90)').attr('text-anchor', 'middle')
  .attr('font-size', 43).attr('font-weight', 'bold');
cbLabel.append('tspan').text('Oxygen concentration [');
cbLabel.append('tspan').attr('font-style', 'italic').attr('font-family', 'Liberation Serif').text('μ');
cbLabel.append('tspan').text(' mol L');
cbLabel.append('tspan').attr('font-size', 29).attr('dy', -16).text('-1');
cbLabel.append('tspan').attr('dy', 16).text(']');

svg.append('text').attr('x', 85).attr('y', 66).attr('font-size', 65).text('(a)');
svg.append('text').attr('x', 85).attr('y', 1438).attr('font-size', 65).text('(b)');

// panel (b)
const xDay = d3.scaleLinear().domain(dayDomain).range([212, 1916]);
const ySig = d3.scaleLinear().domain([27.6, 27.8]).range([2075, 1507]);
defs.append('clipPath').attr('id', 'clipB').append('rect').attr('x', 212).attr('y', 1507).attr('width', 1704).attr('height', 568);
const bandPts = d3.merge(sigma608.map((v, i) => {
  const group = [{d: bandStartDay + i * bandStep, v}];
  if (i < sigma608Mid.length) {
    group.push({d: bandStartDay + (i + 0.5) * bandStep, v: sigma608Mid[i]});
    group.push({d: bandStartDay + (i + 0.75) * bandStep, v: sigma608Fine[i]});
  }
  return group;
}));
const band = w => d3.area().defined(p => p.v !== null).x(p => xDay(p.d)).y0(p => ySig(p.v - w)).y1(p => ySig(p.v + w));
const bandG = svg.append('g').attr('clip-path', 'url(#clipB)');
bandG.selectAll('line').data(bandSpikes).enter().append('line')
  .attr('x1', d => xDay(d[0])).attr('x2', d => xDay(d[0])).attr('y1', d => ySig(d[1])).attr('y2', d => ySig(d[2]))
  .attr('stroke', '#f8e6e7').attr('stroke-width', 1.5);
bandG.append('path').attr('d', band(outer)(bandPts)).attr('fill', '#fdc9cb');
bandG.append('path').attr('d', band(inner)(bandPts)).attr('fill', '#ff7e82');

svg.append('g').selectAll('circle').data(dots50).enter().append('circle')
  .attr('cx', d => xDay(d[0])).attr('cy', d => ySig(d[1])).attr('r', 4.4).attr('fill', '#000');

const bBottom = svg.append('g').attr('transform', 'translate(0,2075)')
  .call(d3.axisBottom(xDay).tickValues(monthDays).tickSizeInner(-18).tickSizeOuter(0).tickPadding(26)
    .tickFormat((d, i) => monthNames[i]));
const bTop = svg.append('g').attr('transform', 'translate(0,1507)')
  .call(d3.axisTop(xDay).tickValues(monthDays).tickSizeInner(-18).tickSizeOuter(0).tickFormat(''));
const bLeft = svg.append('g').attr('transform', 'translate(212,0)')
  .call(d3.axisLeft(ySig).tickValues(sigmaTicks).tickSizeInner(-18).tickSizeOuter(0).tickPadding(16).tickFormat(d3.format('~g')));
const bRight = svg.append('g').attr('transform', 'translate(1916,0)')
  .call(d3.axisRight(ySig).tickValues(sigmaTicks).tickSizeInner(-18).tickSizeOuter(0).tickFormat(''));
styleAxis(bBottom, 38.5);
styleAxis(bLeft, 39.5);
[bTop, bRight].forEach(g => styleAxis(g, 38));

const sigLabel = svg.append('text').attr('transform', 'translate(61,1790) rotate(-90)').attr('text-anchor', 'middle')
  .attr('font-size', 46).attr('font-weight', 'bold');
sigLabel.append('tspan').attr('font-style', 'italic').attr('font-family', 'Liberation Serif').attr('font-weight', 'normal').text('σ');
sigLabel.append('tspan').attr('font-style', 'italic').attr('font-family', 'Liberation Serif').attr('font-weight', 'normal')
  .attr('font-size', 31).attr('dy', 14).text('θ');
sigLabel.append('tspan').attr('dy', -14).text(' [kg m');
sigLabel.append('tspan').attr('font-size', 31).attr('dy', -17).text('-3');
sigLabel.append('tspan').attr('dy', 17).text(']');

// legend
const leg = svg.append('g');
leg.append('rect').attr('x', 1465).attr('y', 1467.5).attr('width', 447.5).attr('height', 154)
  .attr('fill', '#fff').attr('stroke', '#333').attr('stroke-width', 1.6);
leg.append('circle').attr('cx', 1549).attr('cy', 1496.5).attr('r', 4.4).attr('fill', '#000');
leg.append('rect').attr('x', 1491).attr('y', 1526.5).attr('width', 117).attr('height', 28.5).attr('fill', '#ff979b');
leg.append('rect').attr('x', 1491).attr('y', 1575.5).attr('width', 117).attr('height', 29).attr('fill', '#fdc9cb');
function legendText(yPos, parts, sup) {
  const t = leg.append('text').attr('x', 1621).attr('y', yPos).attr('font-size', 25).attr('font-weight', 'bold');
  t.append('tspan').attr('font-family', 'Liberation Serif').attr('font-style', 'italic').attr('font-weight', 'normal').text('σ');
  t.append('tspan').attr('font-family', 'Liberation Serif').attr('font-style', 'italic').attr('font-weight', 'normal')
    .attr('font-size', 18).attr('dy', 8).text('θ');
  t.append('tspan').attr('dy', -8).text(' ' + parts[0]);
  if (parts[1]) {
    t.append('tspan').attr('font-weight', 'normal').text(parts[1]);
    t.append('tspan').text(parts[2]);
  }
  if (sup) t.append('tspan').attr('font-size', 18).attr('dy', -10).text(sup);
}
legendText(1500, ['(50m)'], '');
legendText(1547, ['(608m) ', '±', ' 0.01 kg m'], '-3');
legendText(1596, ['(608m) ', '±', ' 0.03 kg m'], '-3');
</script>
</body>
</html>
